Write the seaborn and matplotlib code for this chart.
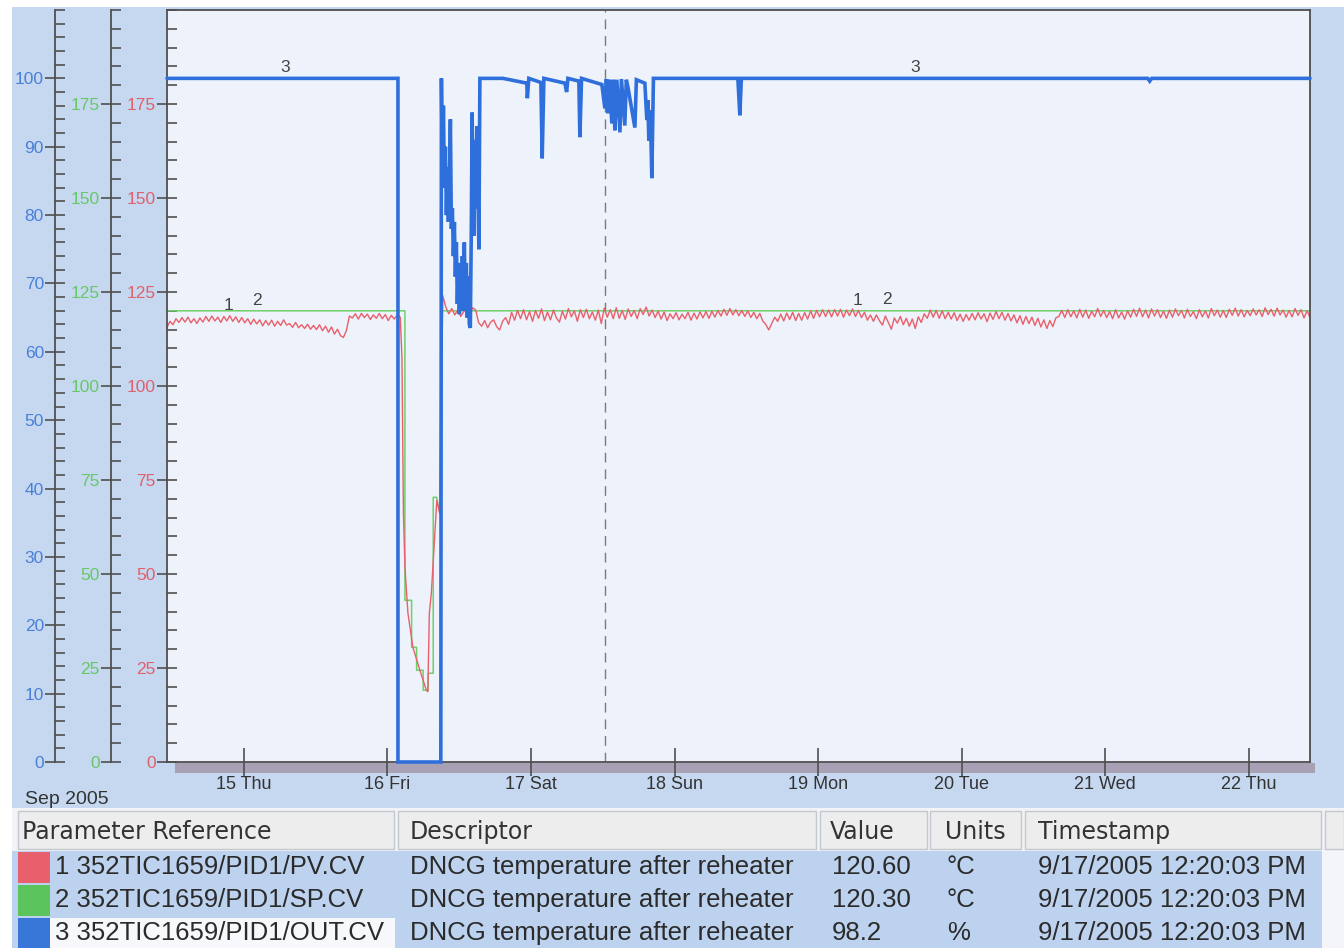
import matplotlib
matplotlib.use("Agg")
import numpy as np
import pandas as pd
import matplotlib.pyplot as plt
import matplotlib.dates as mdates
from matplotlib.patches import Rectangle
from matplotlib.ticker import FixedLocator, MultipleLocator
import seaborn as sns

# ---------------- data ----------------
# 1: PV (red), 30-min samples before the trip
pv_a_start = "2005-09-14 11:08"
pv_a = [115.6, 117.2, 116.3, 117.9, 116.9, 118.2, 117.0, 118.3, 116.8, 117.9,
        116.6, 118.1, 117.0, 118.5, 117.2, 118.6, 117.3, 118.3, 116.9, 118.5,
        117.3, 118.7, 117.2, 118.4, 116.9, 118.2, 116.8, 117.9, 116.4, 117.8,
        116.5, 117.6, 116.0, 117.4, 116.2, 117.5, 115.9, 117.2, 116.1, 117.6,
        116.2, 116.6, 115.6, 116.9, 115.5, 116.3, 115.3, 116.4, 115.1, 116.1,
        115.0, 116.3, 114.7, 115.9, 114.3, 115.7, 113.8, 115.1, 113.4, 112.9,
        114.8, 118.6, 118.1, 119.2, 117.8, 119.3, 118.2, 119.1, 117.7, 118.9,
        118.0, 119.3, 117.9, 119.0, 117.4, 118.8, 117.8, 118.9, 118.3]
# PV during the trip
pv_dip_time = ["2005-09-16 02:25", "2005-09-16 02:40", "2005-09-16 02:55", "2005-09-16 03:25",
               "2005-09-16 04:15", "2005-09-16 05:25", "2005-09-16 06:30", "2005-09-16 06:45",
               "2005-09-16 07:00", "2005-09-16 07:20", "2005-09-16 08:15", "2005-09-16 08:45",
               "2005-09-16 09:15"]
pv_dip = [107.6, 66.1, 51.8, 39.6, 30.5, 24.4, 19.1, 18.7, 39.6, 44.9, 69.6, 66.1, 124.0]
# PV after the trip, 30-min samples
pv_b_start = "2005-09-16 09:45"
pv_b = [121.0, 119.2, 120.6, 118.9, 120.2, 118.5, 119.8, 120.6, 119.0, 120.8,
        120.2, 116.8, 115.9, 117.4, 115.5, 117.0, 117.6, 115.8, 114.9, 117.2,
        118.2, 116.4, 119.6, 117.5, 120.1, 117.9, 120.3, 117.6, 119.8, 117.2,
        120.1, 118.0, 120.5, 117.4, 119.7, 117.6, 120.2, 118.1, 117.0, 119.9,
        117.8, 120.6, 118.4, 120.0, 117.2, 120.3, 118.2, 120.4, 117.9, 119.7,
        117.5, 120.2, 116.6, 120.7, 118.3, 120.3, 117.9, 120.8, 118.0, 120.1,
        117.7, 120.5, 118.5, 120.1, 117.9, 120.6, 119.0, 121.0, 118.6, 120.2,
        118.2, 119.9, 117.8, 119.7, 117.4, 119.2, 117.9, 119.5, 117.6, 119.1,
        117.9, 119.6, 117.5, 119.4, 117.8, 119.7, 118.1, 119.8, 118.0, 119.9,
        118.3, 120.1, 118.6, 120.4, 118.8, 120.6, 118.9, 120.3, 118.7, 120.1,
        118.5, 120.0, 118.2, 119.6, 117.9, 119.3, 117.3, 116.4, 114.9, 116.6,
        118.3, 117.2, 119.1, 117.3, 119.4, 117.7, 119.6, 117.4, 119.3, 117.5,
        119.5, 117.8, 120.0, 118.0, 120.1, 118.4, 120.3, 118.5, 120.2, 118.4,
        120.3, 118.6, 120.4, 118.3, 120.2, 118.7, 120.5, 118.5, 120.1, 118.2,
        119.6, 117.5, 118.9, 117.2, 118.9, 117.4, 116.2, 118.6, 116.9, 115.1,
        118.1, 116.7, 118.5, 116.3, 118.0, 115.9, 117.8, 115.3, 118.4, 116.9,
        119.2, 118.0, 120.2, 118.3, 120.1, 118.0, 120.0, 117.9, 119.6, 117.8,
        119.5, 117.4, 119.1, 117.2, 119.0, 117.5, 119.3, 117.6, 119.5, 117.8,
        119.2, 117.1, 119.4, 117.7, 119.8, 117.9, 119.6, 117.5, 119.3, 117.3,
        118.9, 116.8, 118.7, 116.4, 118.5, 116.6, 118.3, 116.1, 118.0, 115.7,
        117.6, 115.3, 117.4, 115.8, 118.1, 118.5, 120.1, 118.2, 120.3, 118.4,
        120.0, 118.1, 120.4, 118.3, 120.2, 118.0, 119.9, 118.4, 120.6, 118.5,
        120.1, 118.2, 119.8, 117.9, 120.3, 118.1, 119.7, 117.8, 120.0, 118.3,
        120.4, 118.5, 120.7, 118.4, 120.2, 118.1, 120.5, 118.6, 120.3, 118.2,
        119.9, 118.0, 120.2, 118.3, 120.5, 118.7, 120.1, 118.1, 120.4, 118.5,
        119.8, 117.9, 120.3, 118.4, 120.0, 118.1, 120.6, 118.7, 120.2, 118.3,
        120.1, 118.2, 120.4, 118.8, 120.7, 118.6, 120.3, 118.4, 120.1, 118.7,
        120.5, 118.9, 120.3, 118.5, 120.8, 119.0, 120.4, 118.6, 120.7, 118.9,
        120.2, 118.3, 120.1, 118.4, 120.6, 118.8, 120.3, 118.1, 120.0, 118.2]

# 2: SP (green)
sp_time = ["2005-09-14 11:08", "2005-09-16 02:55", "2005-09-16 02:55", "2005-09-16 04:02",
           "2005-09-16 04:02", "2005-09-16 04:52", "2005-09-16 04:52", "2005-09-16 05:58",
           "2005-09-16 05:58", "2005-09-16 06:48", "2005-09-16 06:48", "2005-09-16 07:39",
           "2005-09-16 07:39", "2005-09-16 08:13", "2005-09-16 08:45", "2005-09-16 09:00",
           "2005-09-22 10:15"]
sp = [120.0, 120.0, 43.0, 43.0, 30.5, 30.5, 24.4, 24.4, 19.1, 19.1, 23.6, 23.6,
      70.4, 70.4, 66.1, 120.0, 120.0]

# 3: OUT (blue, %)
out_time = ["2005-09-14 11:08", "2005-09-16 01:45", "2005-09-16 01:45", "2005-09-16 08:55",
            "2005-09-16 09:01", "2005-09-16 09:11", "2005-09-16 09:21", "2005-09-16 09:31",
            "2005-09-16 09:41", "2005-09-16 09:51", "2005-09-16 10:01", "2005-09-16 10:11",
            "2005-09-16 10:21", "2005-09-16 10:31", "2005-09-16 10:41", "2005-09-16 10:51",
            "2005-09-16 11:01", "2005-09-16 11:11", "2005-09-16 11:21", "2005-09-16 11:31",
            "2005-09-16 11:41", "2005-09-16 11:51", "2005-09-16 12:01", "2005-09-16 12:11",
            "2005-09-16 12:21", "2005-09-16 12:31", "2005-09-16 12:41", "2005-09-16 12:51",
            "2005-09-16 13:01", "2005-09-16 13:11", "2005-09-16 13:21", "2005-09-16 13:31",
            "2005-09-16 13:41", "2005-09-16 13:51", "2005-09-16 14:01", "2005-09-16 14:09",
            "2005-09-16 14:17", "2005-09-16 14:27", "2005-09-16 14:37", "2005-09-16 14:47",
            "2005-09-16 14:57", "2005-09-16 15:07", "2005-09-16 15:17", "2005-09-16 15:27",
            "2005-09-16 19:18", "2005-09-16 23:18", "2005-09-16 23:23", "2005-09-16 23:38",
            "2005-09-17 01:39", "2005-09-17 01:52", "2005-09-17 02:09", "2005-09-17 05:40",
            "2005-09-17 05:57", "2005-09-17 06:10", "2005-09-17 08:00", "2005-09-17 08:10",
            "2005-09-17 08:27", "2005-09-17 11:51", "2005-09-17 12:21", "2005-09-17 12:36",
            "2005-09-17 12:51", "2005-09-17 13:06", "2005-09-17 13:31", "2005-09-17 13:46",
            "2005-09-17 14:01", "2005-09-17 14:21", "2005-09-17 14:52", "2005-09-17 15:07",
            "2005-09-17 15:41", "2005-09-17 15:56", "2005-09-17 16:11", "2005-09-17 17:22",
            "2005-09-17 17:37", "2005-09-17 19:02", "2005-09-17 19:22", "2005-09-17 19:32",
            "2005-09-17 19:42", "2005-09-17 19:57", "2005-09-17 20:12", "2005-09-17 20:28",
            "2005-09-18 10:35", "2005-09-18 10:55", "2005-09-18 11:10", "2005-09-21 07:07",
            "2005-09-21 07:27", "2005-09-21 07:47", "2005-09-22 10:15"]
out = [100, 100, 0, 0,
       100, 85, 96, 84, 90, 80, 87, 79, 84, 94, 78, 81, 74, 79, 71, 76,
       67, 73, 65.5, 72, 66, 74, 68, 76, 66, 73, 65, 71, 64, 63.5, 78, 95,
       86, 77, 91, 81, 93, 84, 75, 100,
       100, 99.3, 97.1, 100, 99.4, 88.3, 100, 99.3, 98.0,
       100, 99.6, 91.4, 100, 99.1, 95.6, 99.9, 94.9, 99.8, 93.4, 99.8, 92.4, 99.8, 92.1, 99.9,
       93.1, 99.8, 98.8, 92.8, 99.8, 99.3, 93.9, 96.8, 90.9, 95.3, 85.4, 100, 100, 94.6, 100,
       100, 99.6, 100, 100]

cursor_time = "2005-09-17 12:20:03"
x_start, x_end = "2005-09-14 11:08", "2005-09-22 10:15"

red_ticks = [0, 25, 50, 75, 100, 125, 150, 175]
blue_ticks = [0, 10, 20, 30, 40, 50, 60, 70, 80, 90, 100]

table_header = ["Parameter Reference", "Descriptor", "Value", "Units", "Timestamp"]
table_refs = ["1 352TIC1659/PID1/PV.CV", "2 352TIC1659/PID1/SP.CV", "3 352TIC1659/PID1/OUT.CV"]
table_desc = ["DNCG temperature after reheater"] * 3
table_vals = ["120.60", "120.30", "98.2"]
table_units = ["°C", "°C", "%"]
table_ts = ["9/17/2005 12:20:03 PM"] * 3

# ---------------- styling ----------------
sns.set_style("ticks")
plt.rcParams['font.family'] = ['Liberation Sans', 'DejaVu Sans']

RED = "#e8606c"
GREEN = "#6fd06a"
BLUE = "#2f6fdc"
RED_T = "#e0606c"
GREEN_T = "#66c866"
BLUE_T = "#4a7fd8"
SPINE = "#4f4f4f"
BG = "#c5d8f0"

W, H = 1344, 948
fig = plt.figure(figsize=(W / 100, H / 100), dpi=100)
fig.patch.set_facecolor("white")


def frect(x, y, w, h, fc, ec="none", lw=0, z=-5):
    r = Rectangle((x / W, 1 - (y + h) / H), w / W, h / H, transform=fig.transFigure,
                  facecolor=fc, edgecolor=ec, linewidth=lw, zorder=z)
    fig.add_artist(r)
    return r


frect(12, 7, W - 12, H - 7, BG, z=-10)

ax = fig.add_axes([167 / W, 1 - 762 / H, (1310 - 167) / W, (762 - 10) / H])
ax.set_facecolor("#eef2fa")
ax_g = ax.twinx()
ax_b = ax.twinx()

pv_time = (list(pd.date_range(pv_a_start, periods=len(pv_a), freq="30min"))
           + list(pd.to_datetime(pv_dip_time))
           + list(pd.date_range(pv_b_start, periods=len(pv_b), freq="30min")))
pv_vals = pv_a + pv_dip + pv_b
df_pv = pd.DataFrame({"time": pv_time, "value": pv_vals})
df_sp = pd.DataFrame({"time": pd.to_datetime(sp_time), "value": sp})
df_out = pd.DataFrame({"time": pd.to_datetime(out_time), "value": out})

sns.lineplot(data=df_sp, x="time", y="value", ax=ax, color=GREEN, lw=1.1,
             estimator=None, sort=False, legend=False)
sns.lineplot(data=df_pv, x="time", y="value", ax=ax, color=RED, lw=1.0,
             estimator=None, sort=False, legend=False)
sns.lineplot(data=df_out, x="time", y="value", ax=ax_b, color=BLUE, lw=2.6,
             estimator=None, sort=False, legend=False)
for ln in ax_b.get_lines():
    ln.set_clip_on(False)
    ln.set_solid_joinstyle("miter")

ax.axvline(pd.Timestamp(cursor_time), color="#7a7a7a", lw=1.0, ls=(0, (7, 5)), zorder=1)

xs, xe = pd.Timestamp(x_start), pd.Timestamp(x_end)
for a in (ax, ax_g, ax_b):
    a.set_xlim(xs, xe)
ax.set_ylim(0, 200)
ax_g.set_ylim(0, 200)
ax_b.set_ylim(0, 110)

for a in (ax, ax_g, ax_b):
    a.set_xlabel("")
    a.set_ylabel("")

# main axis (red scale) on the plot's left edge
for s in ["left", "right", "top", "bottom"]:
    ax.spines[s].set_visible(True)
    ax.spines[s].set_color(SPINE)
    ax.spines[s].set_linewidth(1.3)
ax.yaxis.set_major_locator(FixedLocator(red_ticks))
ax.yaxis.set_minor_locator(MultipleLocator(5))
ax.tick_params(axis="y", which="major", direction="inout", length=14, width=1.2,
               color=SPINE, labelcolor=RED_T, labelsize=12.5, pad=1)
ax.tick_params(axis="y", which="minor", direction="in", length=7, width=1.2, color=SPINE)
ax.yaxis.set_ticks_position("left")

# x axis
ax.xaxis.set_major_locator(mdates.DayLocator())
ax.xaxis.set_major_formatter(mdates.DateFormatter("%d %a"))
ax.tick_params(axis="x", which="major", direction="inout", length=20, width=1.2,
               color=SPINE, labelcolor="#333333", labelsize=13, pad=0)
ax.tick_params(axis="x", which="minor", length=0)

# extra left axes
for a, off, ticks, minor, lc in [(ax_g, 40.3, red_ticks, 5, GREEN_T),
                                 (ax_b, 80.6, blue_ticks, 2, BLUE_T)]:
    for s in ["right", "top", "bottom"]:
        a.spines[s].set_visible(False)
    a.spines["left"].set_visible(True)
    a.spines["left"].set_position(("outward", off))
    a.spines["left"].set_color(SPINE)
    a.spines["left"].set_linewidth(1.3)
    a.yaxis.set_ticks_position("left")
    a.yaxis.set_label_position("left")
    a.yaxis.set_major_locator(FixedLocator(ticks))
    a.yaxis.set_minor_locator(MultipleLocator(minor))
    a.tick_params(axis="y", which="major", direction="inout", length=14, width=1.2,
                  color=SPINE, labelcolor=lc, labelsize=12.5, pad=1)
    a.tick_params(axis="y", which="minor", direction="in", length=7, width=1.2, color=SPINE)

# trend number labels
lab = dict(color="#444444", fontsize=12.5, ha="center", va="center")
ax_b.text(pd.Timestamp("2005-09-15 06:51"), 101.6, "3", **lab)
ax_b.text(pd.Timestamp("2005-09-19 16:10"), 101.6, "3", **lab)
ax.text(pd.Timestamp("2005-09-14 21:30"), 121.3, "1", **lab)
ax.text(pd.Timestamp("2005-09-15 02:10"), 122.8, "2", **lab)
ax.text(pd.Timestamp("2005-09-19 06:38"), 122.8, "1", **lab)
ax.text(pd.Timestamp("2005-09-19 11:30"), 122.9, "2", **lab)

# band under the time axis
frect(175, 763, 1140, 10, "#a8a1b6", z=-4)

fig.text(25 / W, 1 - 800 / H, "Sep 2005", fontsize=14, color="#333333", ha="left", va="center")

# ---------------- table ----------------
frect(12, 808, W - 12, 43, "#f2f3f6", z=-3)
cells = [(18, 376), (398, 418), (820, 107), (930, 91), (1025, 296), (1325, 19)]
for (cx, cw) in cells:
    frect(cx, 811, cw, 38, "#ededee", ec="#c4c7ce", lw=1.0, z=-2)
hx = [22, 410, 830, 945, 1038]
for t, x in zip(table_header, hx):
    fig.text(x / W, 1 - 832 / H, t, fontsize=17, color="#333333", ha="left", va="center",
             family=["DejaVu Sans"])

frect(12, 851, 1310, H - 851, "#bcd2ee", z=-3)
frect(1322, 851, W - 1322, H - 851, "#f3f5f9", z=-3)
sw_cols = [RED, "#5cc45c", "#3877d8"]
for i in range(3):
    y0 = 852 + 33 * i
    frect(18, y0, 32, 31, sw_cols[i], z=-2)
    if i == 2:
        frect(50, y0, 345, 31, "#f7f8fb", z=-2)
    yc = 1 - (y0 + 15) / H
    for txt, x in [(table_refs[i], 55), (table_desc[i], 410), (table_vals[i], 832),
                   (table_units[i], 947), (table_ts[i], 1038)]:
        fig.text(x / W, yc, txt, fontsize=18.5, color="#2b2b2b", ha="left", va="center")

fig.savefig("out.png", dpi=100, facecolor=fig.get_facecolor())
